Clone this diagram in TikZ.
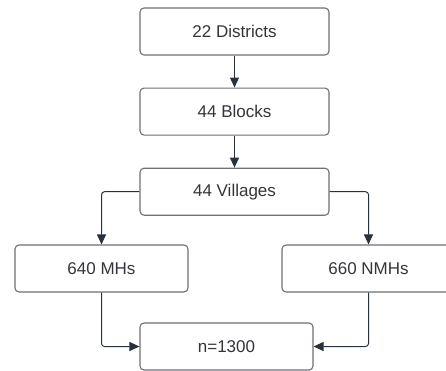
\documentclass[tikz,border=0pt]{standalone}
\usepackage{fontspec}
\setmainfont{Liberation Sans}
\usepackage{tikz}
\usetikzlibrary{arrows.meta, positioning}
\definecolor{boxgray}{RGB}{112,112,118}
\definecolor{textgray}{RGB}{52,52,58}
\definecolor{arrowdark}{RGB}{40,50,62}

\begin{document}
\begin{tikzpicture}[
    x=1pt, y=-1pt,
    node distance=32pt,
    box/.style={
        rectangle,
        rounded corners=4pt,
        draw=boxgray,
        line width=1.1pt,
        minimum width=189pt,
        minimum height=47pt,
        align=center,
        fill=white,
        text=textgray,
        font=\fontsize{17}{20}\selectfont
    },
    sidebox/.style={box, minimum width=173pt},
    arrow/.style={-{Triangle[length=10pt,width=9pt]}, line width=1pt, draw=arrowdark, rounded corners=3pt}
]
\useasboundingbox (0,0) rectangle (446,370);

\node[box] (districts) at (234.5,31.5) {22 Districts};
\node[box, below=of districts] (blocks) {44 Blocks};
\node[box, below=of blocks] (villages) {44 Villages};
\node[sidebox] (mhs) at (101.5,268.5) {640 MHs};
\node[sidebox] (nmhs) at (368.5,268.5) {660 NMHs};
\node[sidebox] (total) at (226.5,346.5) {n=1300};

\draw[arrow] (districts) -- (blocks);
\draw[arrow] (blocks) -- (villages);
\draw[arrow] (villages.west) -| (mhs.north);
\draw[arrow] (villages.east) -| (nmhs.north);
\draw[arrow] (mhs.south) |- (total.west);
\draw[arrow] (nmhs.south) |- (total.east);

\end{tikzpicture}
\end{document}
